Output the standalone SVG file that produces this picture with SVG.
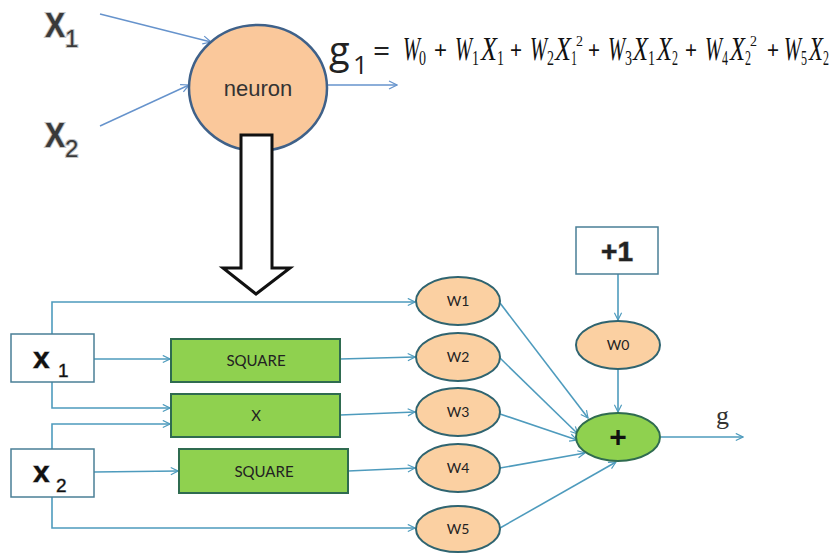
<svg xmlns="http://www.w3.org/2000/svg" width="833" height="555" viewBox="0 0 833 555">
  <style>
    .wire { fill: none; stroke: #4e9bbd; stroke-width: 1.6; }
    .wire-top { fill: none; stroke: #6693cc; stroke-width: 1.4; }
    .box { fill: #ffffff; stroke: #4a7f96; stroke-width: 1.5; }
    .op { fill: #8fd14f; stroke: #2f6b50; stroke-width: 2; }
    .weight { fill: #fbd0a2; stroke: #2f6470; stroke-width: 2; }
    .lbl { font-family: "Lato", "Open Sans", sans-serif; fill: #222; text-anchor: middle; }
    .xin { font-family: "Liberation Sans", sans-serif; font-weight: bold; fill: #111; stroke: #999; stroke-width: 0.8; paint-order: stroke; }
    .bigx { font-family: "Liberation Sans", sans-serif; font-weight: bold; fill: #3a3a3a; stroke: #c4c4c4; stroke-width: 2.2; paint-order: stroke; }
    .term { font-family: "Liberation Serif", serif; fill: #111; }
    .v { font-style: italic; font-size: 34px; }
    .s { font-size: 22px; }
    .p { font-size: 14px; }
    .plus { font-family: "Liberation Sans", sans-serif; font-size: 24px; fill: #111; }
  </style>
  <defs>
    <marker id="chev" viewBox="0 0 10 10" refX="9" refY="5" markerWidth="9" markerHeight="9" markerUnits="userSpaceOnUse" orient="auto">
      <path d="M1,1 L9,5 L1,9" fill="none" stroke="#4e9bbd" stroke-width="1.3"/>
    </marker>
    <marker id="chevTop" viewBox="0 0 10 10" refX="9" refY="5" markerWidth="10" markerHeight="10" markerUnits="userSpaceOnUse" orient="auto">
      <path d="M1,1 L9,5 L1,9" fill="none" stroke="#6693cc" stroke-width="1.2"/>
    </marker>
  </defs>

  <!-- single neuron -->
  <g id="connectors-top">
    <line class="wire-top" x1="100" y1="14" x2="211" y2="42" marker-end="url(#chevTop)"/>
    <line class="wire-top" x1="100" y1="126" x2="189" y2="85" marker-end="url(#chevTop)"/>
    <line class="wire-top" x1="328" y1="85" x2="397" y2="85" marker-end="url(#chevTop)"/>
  </g>

  <g id="input-x1-top">
    <text class="bigx" font-size="35"><tspan x="45" y="37" textLength="20" lengthAdjust="spacingAndGlyphs">X</tspan><tspan x="65" y="47" font-size="24" font-weight="normal">1</tspan></text>
  </g>
  <g id="input-x2-top">
    <text class="bigx" font-size="35"><tspan x="45" y="147" textLength="20" lengthAdjust="spacingAndGlyphs">X</tspan><tspan x="65" y="157" font-size="24" font-weight="normal">2</tspan></text>
  </g>

  <g id="neuron">
    <ellipse cx="258" cy="88" rx="69" ry="63" fill="#fac89b" stroke="#3f6189" stroke-width="2.5"/>
    <text x="258" y="96" font-family="Liberation Sans, sans-serif" font-size="22" fill="#333" text-anchor="middle">neuron</text>
  </g>

  <g id="equation">
    <text x="329" y="64" font-family="Open Sans, Liberation Sans, sans-serif" font-size="38" fill="#222">g<tspan x="353" y="74" font-size="26">1</tspan></text>
    <text x="373" y="61" font-family="Open Sans, Liberation Sans, sans-serif" font-size="30" fill="#222">=</text>

    <!-- each product term is one text; glyph positions are absolute -->
    <text class="term"><tspan class="v" x="403" y="60" textLength="17" lengthAdjust="spacingAndGlyphs">W</tspan><tspan class="s" x="419" y="65" textLength="7" lengthAdjust="spacingAndGlyphs">0</tspan></text>
    <text class="plus" x="434" y="58" textLength="13" lengthAdjust="spacingAndGlyphs">+</text>

    <text class="term"><tspan class="v" x="455" y="60" textLength="17" lengthAdjust="spacingAndGlyphs">W</tspan><tspan class="s" x="472" y="65" textLength="7" lengthAdjust="spacingAndGlyphs">1</tspan><tspan class="v" x="481" y="60" textLength="16" lengthAdjust="spacingAndGlyphs">X</tspan><tspan class="s" x="497" y="65" textLength="7" lengthAdjust="spacingAndGlyphs">1</tspan></text>
    <text class="plus" x="510" y="58" textLength="12" lengthAdjust="spacingAndGlyphs">+</text>

    <text class="term"><tspan class="v" x="530" y="60" textLength="17" lengthAdjust="spacingAndGlyphs">W</tspan><tspan class="s" x="547" y="65" textLength="7" lengthAdjust="spacingAndGlyphs">2</tspan><tspan class="v" x="555" y="60" textLength="16" lengthAdjust="spacingAndGlyphs">X</tspan><tspan class="s" x="571" y="65" textLength="6" lengthAdjust="spacingAndGlyphs">1</tspan><tspan class="p" x="576" y="46" textLength="7" lengthAdjust="spacingAndGlyphs">2</tspan></text>
    <text class="plus" x="588" y="58" textLength="12" lengthAdjust="spacingAndGlyphs">+</text>

    <text class="term"><tspan class="v" x="608" y="60" textLength="17" lengthAdjust="spacingAndGlyphs">W</tspan><tspan class="s" x="625" y="65" textLength="7" lengthAdjust="spacingAndGlyphs">3</tspan><tspan class="v" x="633" y="60" textLength="15" lengthAdjust="spacingAndGlyphs">X</tspan><tspan class="s" x="648" y="65" textLength="7" lengthAdjust="spacingAndGlyphs">1</tspan><tspan class="v" x="657" y="60" textLength="15" lengthAdjust="spacingAndGlyphs">X</tspan><tspan class="s" x="672" y="65" textLength="6" lengthAdjust="spacingAndGlyphs">2</tspan></text>
    <text class="plus" x="685" y="58" textLength="12" lengthAdjust="spacingAndGlyphs">+</text>

    <text class="term"><tspan class="v" x="705" y="60" textLength="17" lengthAdjust="spacingAndGlyphs">W</tspan><tspan class="s" x="722" y="65" textLength="6" lengthAdjust="spacingAndGlyphs">4</tspan><tspan class="v" x="730" y="60" textLength="15" lengthAdjust="spacingAndGlyphs">X</tspan><tspan class="s" x="745" y="65" textLength="6" lengthAdjust="spacingAndGlyphs">2</tspan><tspan class="p" x="750" y="46" textLength="7" lengthAdjust="spacingAndGlyphs">2</tspan></text>
    <text class="plus" x="767" y="58" textLength="12" lengthAdjust="spacingAndGlyphs">+</text>

    <text class="term"><tspan class="v" x="784" y="60" textLength="17" lengthAdjust="spacingAndGlyphs">W</tspan><tspan class="s" x="801" y="65" textLength="6" lengthAdjust="spacingAndGlyphs">5</tspan><tspan class="v" x="809" y="60" textLength="14" lengthAdjust="spacingAndGlyphs">X</tspan><tspan class="s" x="823" y="65" textLength="6" lengthAdjust="spacingAndGlyphs">2</tspan></text>
  </g>

  <!-- expansion arrow -->
  <g id="expand-arrow">
    <polygon points="241,135 272,135 272,268 290,268 256,294 223,268 241,268" fill="#ffffff" stroke="#111" stroke-width="3" stroke-linejoin="miter"/>
  </g>

  <!-- expanded network -->
  <g id="connectors">
    <polyline class="wire" points="52,334 52,302 415,302" marker-end="url(#chev)"/>
    <line class="wire" x1="94" y1="359" x2="170" y2="359" marker-end="url(#chev)"/>
    <line class="wire" x1="340" y1="359" x2="415" y2="357" marker-end="url(#chev)"/>
    <polyline class="wire" points="52,382 52,408 170,408" marker-end="url(#chev)"/>
    <polyline class="wire" points="52,449 52,424 170,424" marker-end="url(#chev)"/>
    <line class="wire" x1="340" y1="415" x2="415" y2="412" marker-end="url(#chev)"/>
    <line class="wire" x1="94" y1="472" x2="178" y2="471" marker-end="url(#chev)"/>
    <line class="wire" x1="348" y1="471" x2="415" y2="468" marker-end="url(#chev)"/>
    <polyline class="wire" points="52,497 52,528 415,528" marker-end="url(#chev)"/>
    <line class="wire" x1="500" y1="303" x2="588" y2="418" marker-end="url(#chev)"/>
    <line class="wire" x1="500" y1="358" x2="578" y2="434" marker-end="url(#chev)"/>
    <line class="wire" x1="500" y1="414" x2="577" y2="440" marker-end="url(#chev)"/>
    <line class="wire" x1="500" y1="468" x2="585" y2="453" marker-end="url(#chev)"/>
    <line class="wire" x1="500" y1="528" x2="616" y2="462" marker-end="url(#chev)"/>
    <line class="wire" x1="618" y1="274" x2="618" y2="320" marker-end="url(#chev)"/>
    <line class="wire" x1="618" y1="368" x2="618" y2="412" marker-end="url(#chev)"/>
    <line class="wire" x1="661" y1="437" x2="743" y2="437" marker-end="url(#chev)"/>
  </g>

  <g id="x1">
    <rect class="box" x="11" y="334" width="83" height="48"/>
    <text class="xin" x="33" y="368" font-size="30">x<tspan x="58" y="377" font-size="19" font-weight="normal">1</tspan></text>
  </g>
  <g id="x2">
    <rect class="box" x="11" y="449" width="83" height="48"/>
    <text class="xin" x="33" y="482" font-size="30">x<tspan x="56" y="492" font-size="19" font-weight="normal">2</tspan></text>
  </g>

  <g id="square-x1">
    <rect class="op" x="171" y="339" width="169" height="43"/>
    <text class="lbl" x="256" y="366" font-size="15">SQUARE</text>
  </g>
  <g id="product">
    <rect class="op" x="171" y="394" width="169" height="43"/>
    <text class="lbl" x="256" y="421" font-size="15">X</text>
  </g>
  <g id="square-x2">
    <rect class="op" x="179" y="449" width="169" height="44"/>
    <text class="lbl" x="264" y="477" font-size="15">SQUARE</text>
  </g>

  <g id="w1">
    <ellipse class="weight" cx="458" cy="301" rx="42" ry="24"/>
    <text class="lbl" x="458" y="306" font-size="14">W1</text>
  </g>
  <g id="w2">
    <ellipse class="weight" cx="458" cy="357" rx="42" ry="24"/>
    <text class="lbl" x="458" y="362" font-size="14">W2</text>
  </g>
  <g id="w3">
    <ellipse class="weight" cx="458" cy="412" rx="42" ry="24"/>
    <text class="lbl" x="458" y="417" font-size="14">W3</text>
  </g>
  <g id="w4">
    <ellipse class="weight" cx="458" cy="468" rx="42" ry="24"/>
    <text class="lbl" x="458" y="473" font-size="14">W4</text>
  </g>
  <g id="w5">
    <ellipse class="weight" cx="458" cy="529" rx="42" ry="23"/>
    <text class="lbl" x="458" y="534" font-size="14">W5</text>
  </g>

  <g id="bias">
    <rect class="box" x="576" y="227" width="82" height="47"/>
    <text x="617" y="261" font-family="Liberation Sans, sans-serif" font-weight="bold" font-size="28" fill="#222" stroke="#888" stroke-width="1" paint-order="stroke" text-anchor="middle">+1</text>
  </g>
  <g id="w0">
    <ellipse class="weight" cx="618" cy="345" rx="42" ry="24"/>
    <text class="lbl" x="618" y="350" font-size="14">W0</text>
  </g>
  <g id="sum">
    <ellipse class="op" cx="618" cy="437" rx="42" ry="24"/>
    <text x="618" y="447" font-family="Liberation Sans, sans-serif" font-weight="bold" font-size="30" fill="#111" text-anchor="middle">+</text>
  </g>
  <g id="output-g">
    <text x="716" y="424" font-family="Liberation Serif, serif" font-size="26" fill="#333">g</text>
  </g>
</svg>
